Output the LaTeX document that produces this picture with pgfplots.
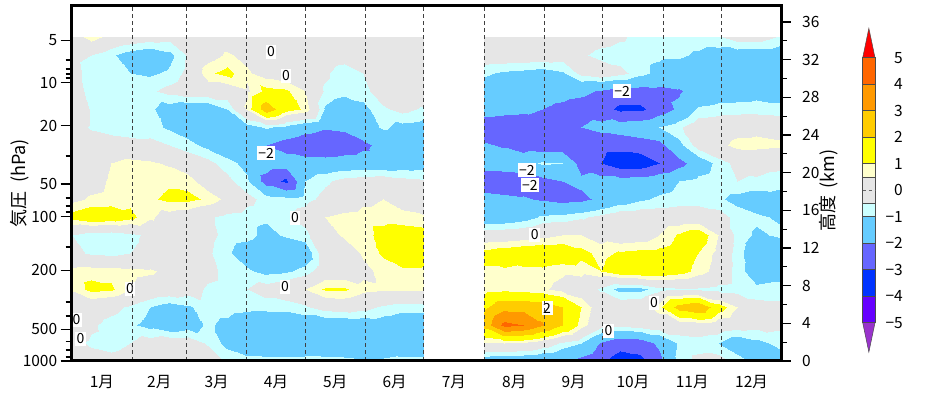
\documentclass[border=0pt]{standalone}
\usepackage{pgfplots}
\pgfplotsset{compat=1.18}
\usepackage{fontspec}
\setmainfont{Noto Sans CJK JP}
\definecolor{cPurple}{HTML}{9933CC}
\definecolor{cViolet}{HTML}{6600FF}
\definecolor{cBlue}{HTML}{0033FF}
\definecolor{cSlate}{HTML}{6666FF}
\definecolor{cSky}{HTML}{66CCFF}
\definecolor{cCyan}{HTML}{CCFFFF}
\definecolor{cGrey}{HTML}{E6E6E6}
\definecolor{cLY}{HTML}{FFFFCC}
\definecolor{cYellow}{HTML}{FFFF00}
\definecolor{cGold}{HTML}{FFCC00}
\definecolor{cOrange}{HTML}{FF9900}
\definecolor{cOrRed}{HTML}{FF6600}
\definecolor{cRed}{HTML}{FF0000}
\begin{document}
\begin{tikzpicture}
\begin{axis}[
  name=main,
  at={(71.7pt,29pt)}, anchor=south west,
  scale only axis, width=710pt, height=355pt,
  xmin=0, xmax=365, ymin=0, ymax=355,
  axis on top,
  axis line style={line width=3pt},
  xtick={31,59,90,120,151,181,212,243,273,304,334},
  xticklabels={},
  xtick pos=bottom,
  xtick style={draw=none},
  xmajorgrids,
  major grid style={dash pattern=on 4pt off 3pt, black!75, line width=0.7pt},
  extra x ticks={15.5,45,74.5,105,135.5,166,196.5,227.5,258,288.5,319,349.5},
  extra x tick labels={1月,2月,3月,4月,5月,6月,7月,8月,9月,10月,11月,12月},
  extra x tick style={grid=none, xtick style={draw=none}},
  ytick={0,31.8,90.7,144.5,177,235.2,278.3,320.8},
  yticklabels={1000,500,200,100,50,20,10,5},
  minor ytick={4,11,19.4,45,59,114,149,155,163,205,283,287,292,301},
  ytick pos=left,
  tick align=outside,
  ytick style={line width=1.3pt, black},
  major tick length=11pt, minor tick length=6pt,
  ticklabel style={font=\fontsize{15.5}{16}\selectfont},
  ylabel={気圧\hspace{0.5em}(hPa)},
  ylabel style={at={(axis description cs:-0.073,0.5)}, anchor=center, font=\fontsize{18}{18}\selectfont},
  colormap={anom}{color(0cm)=(cPurple) color(1cm)=(cViolet) color(2cm)=(cBlue) color(3cm)=(cSlate) color(4cm)=(cSky) color(5cm)=(cCyan) color(5.5cm)=(cGrey) color(6.5cm)=(cLY) color(7cm)=(cYellow) color(8cm)=(cGold) color(9cm)=(cOrange) color(10cm)=(cOrRed) color(11cm)=(cRed) color(12cm)=(cRed)},
  colormap access=piecewise constant,
  point meta min=-6, point meta max=6,
]
% Jan - Jun
\addplot[surf, shader=interp, mesh/cols=19, point meta=explicit] coordinates {
(0,0)[0] (10,0)[-0.2] (20,0)[-0.3] (30,0)[-0.2] (40,0)[0.2] (50,0)[0.5] (60,0)[0.2] (70,0)[0] (80,0)[-0.6] (90,0)[-0.8] (100,0)[-0.8] (110,0)[-0.8] (120,0)[-0.8] (130,0)[-0.8] (140,0)[-0.8] (150,0)[-0.9] (160,0)[-0.9] (170,0)[-0.8] (181,0)[-0.8]
(0,18)[-0.3] (10,18)[-0.6] (20,18)[-0.7] (30,18)[-0.5] (40,18)[-0.2] (50,18)[0] (60,18)[-0.1] (70,18)[-0.6] (80,18)[-1.2] (90,18)[-1.5] (100,18)[-1.6] (110,18)[-1.6] (120,18)[-1.5] (130,18)[-1.6] (140,18)[-1.7] (150,18)[-1.6] (160,18)[-1.5] (170,18)[-1.6] (181,18)[-1.6]
(0,36)[0] (10,36)[-0.4] (20,36)[-0.7] (30,36)[-0.9] (40,36)[-1.2] (50,36)[-1.5] (60,36)[-1.3] (70,36)[-0.9] (80,36)[-1.2] (90,36)[-1.6] (100,36)[-1.7] (110,36)[-1.6] (120,36)[-1.5] (130,36)[-1.6] (140,36)[-1.6] (150,36)[-1.5] (160,36)[-1.4] (170,36)[-1.5] (181,36)[-1.5]
(0,54)[0] (10,54)[-0.1] (20,54)[-0.3] (30,54)[-0.6] (40,54)[-1.0] (50,54)[-1.3] (60,54)[-1.1] (70,54)[-0.7] (80,54)[-0.7] (90,54)[-0.8] (100,54)[-0.8] (110,54)[-0.8] (120,54)[-0.6] (130,54)[-0.2] (140,54)[-0.1] (150,54)[-0.3] (160,54)[-0.6] (170,54)[-0.8] (181,54)[-0.8]
(0,72)[0.6] (10,72)[1.2] (20,72)[1.1] (30,72)[0.5] (40,72)[0.1] (50,72)[0] (60,72)[-0.2] (70,72)[-0.6] (80,72)[-0.7] (90,72)[-0.5] (100,72)[-0.2] (110,72)[0] (120,72)[0.5] (130,72)[1.1] (140,72)[1.1] (150,72)[0.7] (160,72)[0.6] (170,72)[0.6] (181,72)[0.6]
(0,90)[0.7] (10,90)[0.8] (20,90)[0.8] (30,90)[0.7] (40,90)[0.6] (50,90)[0.3] (60,90)[0] (70,90)[-0.3] (80,90)[-0.7] (90,90)[-0.9] (100,90)[-1.2] (110,90)[-1.1] (120,90)[-0.8] (130,90)[0] (140,90)[0] (150,90)[0.3] (160,90)[0.7] (170,90)[0.9] (181,90)[0.9]
(0,108)[-0.3] (10,108)[-0.6] (20,108)[-0.7] (30,108)[-0.5] (40,108)[-0.2] (50,108)[0] (60,108)[0] (70,108)[-0.4] (80,108)[-0.9] (90,108)[-1.4] (100,108)[-1.6] (110,108)[-1.7] (120,108)[-1.5] (130,108)[0] (140,108)[0] (150,108)[0.6] (160,108)[1.1] (170,108)[1.4] (181,108)[1.3]
(0,126)[-0.5] (10,126)[-0.8] (20,126)[-0.9] (30,126)[-0.7] (40,126)[-0.3] (50,126)[0] (60,126)[0] (70,126)[-0.3] (80,126)[-0.7] (90,126)[-0.8] (100,126)[-1.2] (110,126)[-0.9] (120,126)[-0.7] (130,126)[0.2] (140,126)[0.6] (150,126)[0.8] (160,126)[1.2] (170,126)[1.4] (181,126)[1.3]
(0,144)[1.3] (10,144)[1.6] (20,144)[1.5] (30,144)[1.2] (40,144)[0.6] (50,144)[0.2] (60,144)[0] (70,144)[-0.4] (80,144)[-0.7] (90,144)[-0.8] (100,144)[-0.9] (110,144)[-0.6] (120,144)[-0.2] (130,144)[0.5] (140,144)[0.7] (150,144)[0.8] (160,144)[0.8] (170,144)[0.7] (181,144)[0.6]
(0,162)[0.3] (10,162)[0.6] (20,162)[0.7] (30,162)[0.8] (40,162)[0.9] (50,162)[1.15] (60,162)[1.15] (70,162)[0.9] (80,162)[0.3] (90,162)[-0.3] (100,162)[-0.7] (110,162)[-0.8] (120,162)[-0.7] (130,162)[-0.3] (140,162)[-0.1] (150,162)[0.3] (160,162)[0.5] (170,162)[0.2] (181,162)[-0.3]
(0,180)[0] (10,180)[0.2] (20,180)[0.6] (30,180)[0.7] (40,180)[0.7] (50,180)[0.9] (60,180)[0.8] (70,180)[0] (80,180)[-0.3] (90,180)[-0.9] (100,180)[-2.4] (110,180)[-3.2] (120,180)[-1.0] (130,180)[-0.6] (140,180)[-0.3] (150,180)[-0.2] (160,180)[-0.1] (170,180)[-0.3] (181,180)[-0.4]
(0,198)[0] (10,198)[0.1] (20,198)[0.5] (30,198)[0.7] (40,198)[0.6] (50,198)[0.4] (60,198)[0] (70,198)[-0.3] (80,198)[-0.8] (90,198)[-1.2] (100,198)[-1.5] (110,198)[-1.5] (120,198)[-1.6] (130,198)[-1.6] (140,198)[-1.5] (150,198)[-1.5] (160,198)[-1.5] (170,198)[-1.4] (181,198)[-1.3]
(0,216)[0] (10,216)[0] (20,216)[-0.1] (30,216)[-0.2] (40,216)[-0.3] (50,216)[-0.5] (60,216)[-0.8] (70,216)[-1.2] (80,216)[-1.5] (90,216)[-1.7] (100,216)[-2.0] (110,216)[-2.4] (120,216)[-2.7] (130,216)[-2.8] (140,216)[-2.6] (150,216)[-2.2] (160,216)[-1.7] (170,216)[-1.5] (181,216)[-1.5]
(0,234)[0] (10,234)[-0.6] (20,234)[-0.8] (30,234)[-0.9] (40,234)[-0.8] (50,234)[-1.1] (60,234)[-1.4] (70,234)[-1.6] (80,234)[-1.6] (90,234)[-1.3] (100,234)[-0.9] (110,234)[-1.2] (120,234)[-1.6] (130,234)[-1.9] (140,234)[-1.8] (150,234)[-1.4] (160,234)[-0.9] (170,234)[-1.2] (181,234)[-1.3]
(0,252)[0.5] (10,252)[-0.6] (20,252)[-0.8] (30,252)[-0.9] (40,252)[-0.9] (50,252)[-1.3] (60,252)[-1.5] (70,252)[-1.5] (80,252)[-1.0] (90,252)[0.6] (100,252)[2.6] (110,252)[1.3] (120,252)[0.9] (130,252)[-1.1] (140,252)[-1.5] (150,252)[-1.2] (160,252)[-0.6] (170,252)[-0.3] (181,252)[-0.6]
(0,270)[0] (10,270)[-0.8] (20,270)[-0.9] (30,270)[-0.8] (40,270)[-0.6] (50,270)[-0.3] (60,270)[0] (70,270)[0] (80,270)[0] (90,270)[0.4] (100,270)[1.2] (110,270)[1.1] (120,270)[0.5] (130,270)[-0.6] (140,270)[-0.8] (150,270)[-0.7] (160,270)[-0.1] (170,270)[0] (181,270)[0]
(0,288)[-0.2] (10,288)[-0.8] (20,288)[-0.9] (30,288)[-1.0] (40,288)[-1.1] (50,288)[-0.9] (60,288)[-0.3] (70,288)[0.9] (80,288)[1.2] (90,288)[0.6] (100,288)[0.2] (110,288)[0] (120,288)[0] (130,288)[-0.4] (140,288)[-0.8] (150,288)[-0.5] (160,288)[0] (170,288)[0] (181,288)[0]
(0,306)[-0.3] (10,306)[-0.5] (20,306)[-0.9] (30,306)[-1.3] (40,306)[-1.5] (50,306)[-1.2] (60,306)[-0.4] (70,306)[0.2] (80,306)[0.6] (90,306)[0.3] (100,306)[0] (110,306)[0] (120,306)[0] (130,306)[-0.1] (140,306)[-0.2] (150,306)[-0.1] (160,306)[0] (170,306)[0] (181,306)[0]
(0,324)[0] (10,324)[0.8] (20,324)[0.2] (30,324)[0] (40,324)[-0.2] (50,324)[-0.3] (60,324)[-0.2] (70,324)[0] (80,324)[0] (90,324)[0] (100,324)[0] (110,324)[0] (120,324)[0] (130,324)[0] (140,324)[0] (150,324)[0] (160,324)[0] (170,324)[0] (181,324)[0]
};
% Aug - Dec
\addplot[surf, shader=interp, mesh/cols=16, point meta=explicit] coordinates {
(212,0)[-1.5] (222,0)[-1.6] (232,0)[-1.7] (242,0)[-1.8] (252,0)[-1.9] (262,0)[-2.3] (272,0)[-2.8] (282,0)[-3.5] (292,0)[-3.3] (302,0)[-2.3] (312,0)[-0.8] (322,0)[-0.3] (332,0)[-0.2] (342,0)[-0.7] (352,0)[-1.2] (365,0)[-1.3]
(212,18)[0.4] (222,18)[0.5] (232,18)[0.4] (242,18)[0] (252,18)[-0.6] (262,18)[-1.0] (272,18)[-2.1] (282,18)[-2.6] (292,18)[-2.5] (302,18)[-1.8] (312,18)[-0.9] (322,18)[-0.8] (332,18)[-1.0] (342,18)[-1.5] (352,18)[-1.2] (365,18)[-0.8]
(212,36)[2.4] (222,36)[4.3] (232,36)[4.0] (242,36)[3.1] (252,36)[2.0] (262,36)[0.8] (272,36)[-0.2] (282,36)[-0.3] (292,36)[-0.2] (302,36)[0] (312,36)[0] (322,36)[0.1] (332,36)[0] (342,36)[-0.2] (352,36)[-0.3] (365,36)[-0.4]
(212,54)[1.8] (222,54)[2.7] (232,54)[2.7] (242,54)[2.6] (252,54)[2.0] (262,54)[1.0] (272,54)[0] (282,54)[0] (292,54)[0.1] (302,54)[0.8] (312,54)[2.4] (322,54)[2.9] (332,54)[1.4] (342,54)[0.5] (352,54)[-0.2] (365,54)[-0.3]
(212,72)[0.7] (222,72)[0.8] (232,72)[0.7] (242,72)[0.6] (252,72)[0.3] (262,72)[0] (272,72)[-0.6] (282,72)[-1.2] (292,72)[-1.2] (302,72)[-0.7] (312,72)[-0.6] (322,72)[-0.6] (332,72)[-0.7] (342,72)[-0.8] (352,72)[-0.9] (365,72)[-0.8]
(212,90)[0.9] (222,90)[0.9] (232,90)[0.8] (242,90)[0.8] (252,90)[0.6] (262,90)[0.7] (272,90)[1.0] (282,90)[1.5] (292,90)[1.6] (302,90)[1.5] (312,90)[1.3] (322,90)[0.8] (332,90)[0.2] (342,90)[-0.8] (352,90)[-1.3] (365,90)[-1.3]
(212,108)[1.2] (222,108)[1.4] (232,108)[1.6] (242,108)[1.7] (252,108)[1.6] (262,108)[1.2] (272,108)[0.8] (282,108)[1.1] (292,108)[1.2] (302,108)[1.2] (312,108)[1.4] (322,108)[1.0] (332,108)[0.3] (342,108)[-0.8] (352,108)[-1.4] (365,108)[-1.5]
(212,126)[0] (222,126)[0] (232,126)[0.1] (242,126)[0.3] (252,126)[0.5] (262,126)[0.5] (272,126)[0.2] (282,126)[0] (292,126)[0.1] (302,126)[0.5] (312,126)[1.1] (322,126)[1.5] (332,126)[0.5] (342,126)[-0.7] (352,126)[-1.1] (365,126)[-0.9]
(212,144)[-1.6] (222,144)[-1.5] (232,144)[-1.3] (242,144)[-0.9] (252,144)[-0.8] (262,144)[-0.6] (272,144)[-0.3] (282,144)[0] (292,144)[0] (302,144)[0] (312,144)[0] (322,144)[0] (332,144)[-0.2] (342,144)[-0.7] (352,144)[-0.9] (365,144)[-1.1]
(212,162)[-1.7] (222,162)[-1.8] (232,162)[-1.9] (242,162)[-2.1] (252,162)[-2.3] (262,162)[-2.2] (272,162)[-1.8] (282,162)[-1.4] (292,162)[-1.1] (302,162)[-0.9] (312,162)[-0.8] (322,162)[-0.8] (332,162)[-0.9] (342,162)[-1.2] (352,162)[-1.4] (365,162)[-1.3]
(212,180)[-2.5] (222,180)[-2.6] (232,180)[-2.5] (242,180)[-2.3] (252,180)[-2.0] (262,180)[-1.8] (272,180)[-1.6] (282,180)[-1.6] (292,180)[-1.5] (302,180)[-1.3] (312,180)[-1.0] (322,180)[-0.8] (332,180)[-0.6] (342,180)[-0.5] (352,180)[-0.6] (365,180)[-0.8]
(212,198)[-1.6] (222,198)[-1.5] (232,198)[-1.3] (242,198)[-0.9] (252,198)[-1.0] (262,198)[-2.4] (272,198)[-3.0] (282,198)[-3.6] (292,198)[-3.6] (302,198)[-3.0] (312,198)[-2.3] (322,198)[-1.5] (332,198)[-0.8] (342,198)[-0.3] (352,198)[-0.2] (365,198)[-0.3]
(212,216)[-1.9] (222,216)[-2.1] (232,216)[-2.5] (242,216)[-2.6] (252,216)[-2.6] (262,216)[-2.7] (272,216)[-2.7] (282,216)[-2.7] (292,216)[-2.5] (302,216)[-2.3] (312,216)[-1.2] (322,216)[-0.2] (332,216)[0.3] (342,216)[0.7] (352,216)[0.7] (365,216)[0.6]
(212,234)[-2.5] (222,234)[-2.6] (232,234)[-2.6] (242,234)[-2.5] (252,234)[-2.3] (262,234)[-2.0] (272,234)[-1.7] (282,234)[-1.5] (292,234)[-1.3] (302,234)[-1.0] (312,234)[-0.6] (322,234)[0] (332,234)[0] (342,234)[0.2] (352,234)[0.3] (365,234)[0.2]
(212,252)[-1.6] (222,252)[-1.7] (232,252)[-1.8] (242,252)[-2.0] (252,252)[-2.2] (262,252)[-2.4] (272,252)[-2.6] (282,252)[-3.2] (292,252)[-3.2] (302,252)[-2.5] (312,252)[-1.8] (322,252)[-0.9] (332,252)[-0.8] (342,252)[-0.8] (352,252)[-0.8] (365,252)[-0.9]
(212,270)[-1.4] (222,270)[-1.5] (232,270)[-1.6] (242,270)[-1.6] (252,270)[-1.7] (262,270)[-1.8] (272,270)[-2.1] (282,270)[-2.4] (292,270)[-2.4] (302,270)[-2.3] (312,270)[-2.1] (322,270)[-1.6] (332,270)[-1.4] (342,270)[-1.3] (352,270)[-1.2] (365,270)[-1.2]
(212,288)[-0.9] (222,288)[-1.1] (232,288)[-1.2] (242,288)[-1.3] (252,288)[-1.1] (262,288)[-0.3] (272,288)[0] (282,288)[-0.3] (292,288)[-0.8] (302,288)[-1.2] (312,288)[-1.4] (322,288)[-1.6] (332,288)[-1.7] (342,288)[-1.7] (352,288)[-1.8] (365,288)[-1.8]
(212,306)[0] (222,306)[0] (232,306)[0] (242,306)[-0.1] (252,306)[-0.2] (262,306)[-0.4] (272,306)[-0.7] (282,306)[-0.8] (292,306)[-0.8] (302,306)[-0.9] (312,306)[-0.9] (322,306)[-1.1] (332,306)[-1.3] (342,306)[-1.4] (352,306)[-1.5] (365,306)[-1.5]
(212,324)[0] (222,324)[0] (232,324)[0] (242,324)[0] (252,324)[0] (262,324)[0] (272,324)[-0.2] (282,324)[-0.4] (292,324)[-0.7] (302,324)[-0.7] (312,324)[-0.7] (322,324)[-0.7] (332,324)[-0.6] (342,324)[-0.2] (352,324)[-0.2] (365,324)[-0.6]
};
% contour labels
\begin{scope}[every node/.style={fill=white, inner sep=1.5pt, font=\fontsize{14}{14}\selectfont}]
\node at (axis cs:102.5,309) {0};
\node at (axis cs:110.2,285) {0};
\node at (axis cs:99.9,208) {−2};
\node at (axis cs:114.8,143) {0};
\node at (axis cs:30,72) {0};
\node at (axis cs:109.7,74) {0};
\node at (axis cs:2.5,41) {0};
\node at (axis cs:4.5,22) {0};
\node at (axis cs:283,270) {−2};
\node at (axis cs:234,191) {−2};
\node at (axis cs:235.6,176) {−2};
\node at (axis cs:238,126) {0};
\node at (axis cs:244.4,53) {2};
\node at (axis cs:299.4,58) {0};
\node at (axis cs:276,30) {0};
\end{scope}
\end{axis}
% right height axis
\begin{axis}[
  at={(71.7pt,29pt)}, anchor=south west,
  scale only axis, width=710pt, height=355pt,
  xmin=0, xmax=365, ymin=0, ymax=37.7,
  hide x axis,
  axis line style={line width=3pt},
  ytick={0,4,...,36}, minor ytick={2,6,...,34},
  ytick pos=right, yticklabel pos=right,
  tick align=outside,
  major tick length=9pt, minor tick length=5pt,
  ytick style={line width=1.3pt, black},
  yticklabel style={font=\fontsize{15.5}{16}\selectfont, xshift=8pt},
  /pgf/number format/assume math mode=true,
  ylabel={高度\hspace{0.4em}(km)},
  ylabel style={at={(axis description cs:1.0666,0.48)}, anchor=center, font=\fontsize{18}{18}\selectfont},
]
\addplot[draw=none] coordinates {(0,0)};
\end{axis}
% colorbar
\begin{axis}[
  at={(862.7pt,67.3pt)}, anchor=south west,
  scale only axis, width=12.3pt, height=265pt,
  xmin=0, xmax=1, ymin=-5, ymax=5, clip=false,
  hide x axis, axis line style={draw=none},
  ytick={-5,-4,...,5},
  yticklabels={−5,−4,−3,−2,−1,0,1,2,3,4,5},
  ytick pos=right, yticklabel pos=right,
  major tick length=0pt,
  yticklabel style={font=\fontsize{15.5}{16}\selectfont, anchor=east, inner sep=0pt, xshift=28pt},
]
\addplot[fill=cRed, draw=black!70, line width=0.5pt] coordinates {(0,5) (1,5) (0.5,6.11)} -- cycle;
\addplot[fill=cOrRed, draw=black!70, line width=0.5pt] coordinates {(0,4) (1,4) (1,5) (0,5)} -- cycle;
\addplot[fill=cOrange, draw=black!70, line width=0.5pt] coordinates {(0,3) (1,3) (1,4) (0,4)} -- cycle;
\addplot[fill=cGold, draw=black!70, line width=0.5pt] coordinates {(0,2) (1,2) (1,3) (0,3)} -- cycle;
\addplot[fill=cYellow, draw=black!70, line width=0.5pt] coordinates {(0,1) (1,1) (1,2) (0,2)} -- cycle;
\addplot[fill=cLY, draw=black!70, line width=0.5pt] coordinates {(0,0.5) (1,0.5) (1,1) (0,1)} -- cycle;
\addplot[fill=cGrey, draw=black!70, line width=0.5pt] coordinates {(0,-0.5) (1,-0.5) (1,0.5) (0,0.5)} -- cycle;
\addplot[fill=cCyan, draw=black!70, line width=0.5pt] coordinates {(0,-1) (1,-1) (1,-0.5) (0,-0.5)} -- cycle;
\addplot[fill=cSky, draw=black!70, line width=0.5pt] coordinates {(0,-2) (1,-2) (1,-1) (0,-1)} -- cycle;
\addplot[fill=cSlate, draw=black!70, line width=0.5pt] coordinates {(0,-3) (1,-3) (1,-2) (0,-2)} -- cycle;
\addplot[fill=cBlue, draw=black!70, line width=0.5pt] coordinates {(0,-4) (1,-4) (1,-3) (0,-3)} -- cycle;
\addplot[fill=cViolet, draw=black!70, line width=0.5pt] coordinates {(0,-5) (1,-5) (1,-4) (0,-4)} -- cycle;
\addplot[fill=cPurple, draw=black!70, line width=0.5pt] coordinates {(0,-5) (1,-5) (0.5,-6.11)} -- cycle;
\addplot[dashed, black!60, line width=0.5pt] coordinates {(0,0) (1,0)};
\end{axis}
\path (0pt,0pt) rectangle (933pt,390pt);
\end{tikzpicture}
\end{document}
